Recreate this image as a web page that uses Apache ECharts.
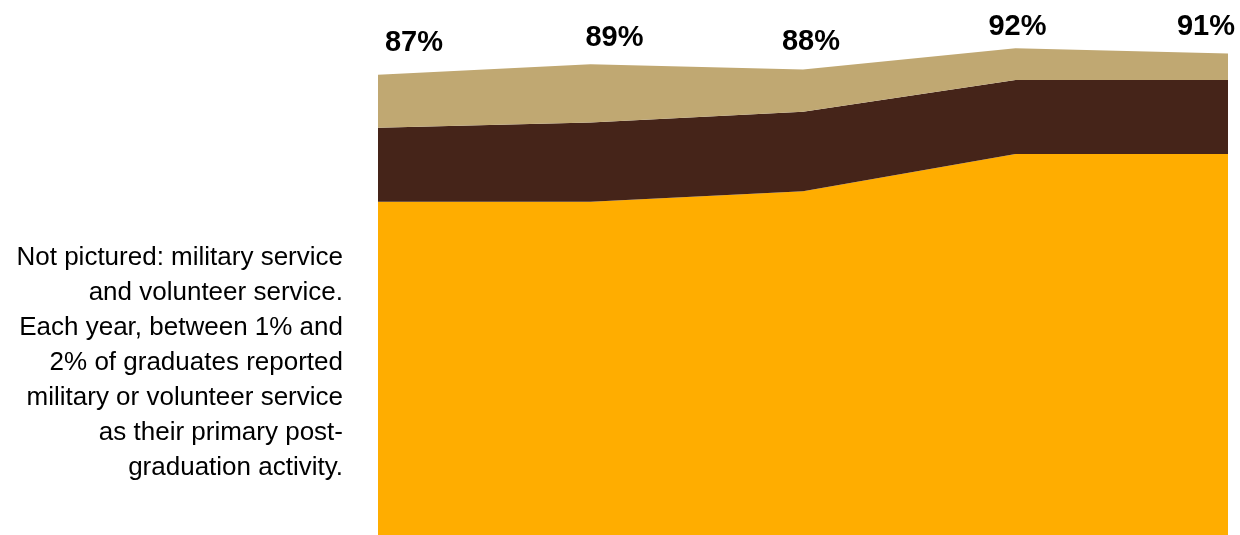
<!DOCTYPE html>
<html>
<head>
<meta charset="utf-8">
<script src="https://cdn.jsdelivr.net/npm/echarts@6/dist/echarts.min.js"></script>
<style>
html,body{margin:0;padding:0;background:#fff;}
#chart{width:1240px;height:535px;}
</style>
</head>
<body>
<div id="chart"></div>
<script>
// Data
var years = ['Y1', 'Y2', 'Y3', 'Y4', 'Y5'];
var employed = [63, 63, 65, 72, 72];      // gold bottom layer
var gradSchool = [14, 15, 15, 14, 14];    // dark brown middle layer
var otherActivity = [10, 11, 8, 6, 5];    // tan top layer
var totals = [87, 89, 88, 92, 91];        // labels above stack

// Styles (not data)
var labelOffsets = [[36, -12], [24, -7], [8, -8], [2, -2], [-22, -7]];
var noteLines = [
  'Not pictured: military service',
  'and volunteer service.',
  'Each year, between 1% and',
  '2% of graduates reported',
  'military or volunteer service',
  'as their primary post-',
  'graduation activity.'
];

var chart = echarts.init(document.getElementById('chart'), null, {renderer: 'canvas'});

function layer(name, data, color, withLabels) {
  var s = {
    name: name,
    type: 'line',
    stack: 'total',
    data: data,
    symbol: 'none',
    lineStyle: {width: 0},
    areaStyle: {color: color, opacity: 1},
    silent: true,
    animation: false
  };
  if (withLabels) {
    s.symbol = 'circle';
    s.showSymbol = true;
    s.symbolSize = 0.01;
    s.itemStyle = {color: color};
    s.data = data.map(function (v, i) {
      return {value: v, label: {offset: labelOffsets[i]}};
    });
    s.label = {
      show: true,
      position: 'top',
      distance: 5,
      fontFamily: 'Liberation Sans, Arial, sans-serif',
      fontSize: 29,
      fontWeight: 'bold',
      color: '#000',
      formatter: function (p) { return totals[p.dataIndex] + '%'; }
    };
  }
  return s;
}

chart.setOption({
  animation: false,
  backgroundColor: '#fff',
  grid: {left: 378, right: 12, top: 6, bottom: -6, containLabel: false},
  xAxis: {
    type: 'category',
    data: years,
    boundaryGap: false,
    show: false
  },
  yAxis: {
    type: 'value',
    min: 0,
    max: 100,
    show: false
  },
  graphic: [{
    type: 'text',
    x: 343,
    y: 240,
    style: {
      text: noteLines.join('\n'),
      fontFamily: 'Liberation Sans, Arial, sans-serif',
      fontSize: 26,
      lineHeight: 35,
      fill: '#000',
      textAlign: 'right',
      align: 'right',
      textVerticalAlign: 'top',
      verticalAlign: 'top'
    }
  }],
  series: [
    layer('Employed', employed, '#FFAD00', false),
    layer('Graduate school', gradSchool, '#452419', false),
    layer('Other', otherActivity, '#C0A872', true)
  ]
});
</script>
</body>
</html>
